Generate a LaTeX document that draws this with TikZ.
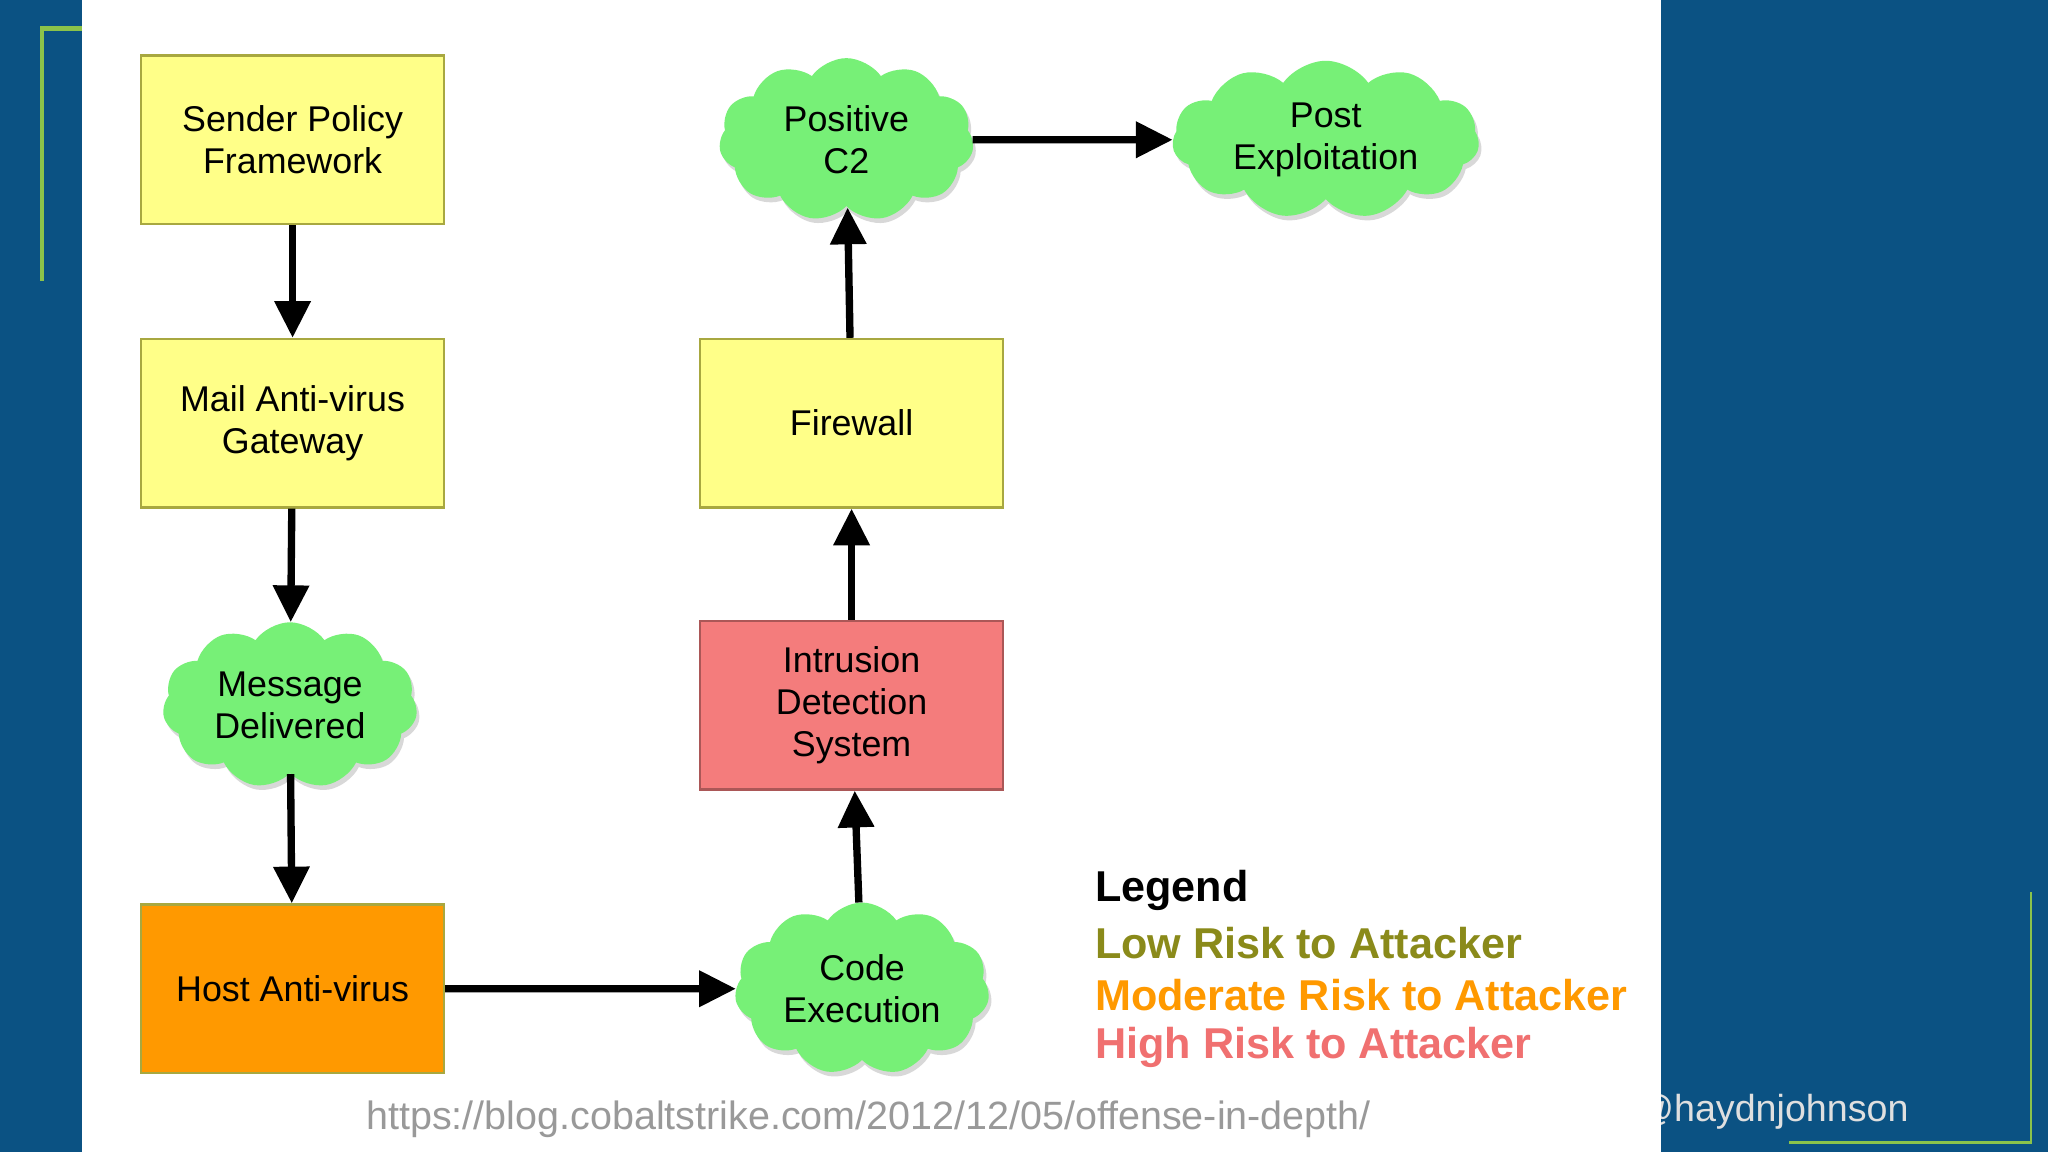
\documentclass[tikz,border=0pt]{standalone}
\usepackage{fontspec}
\setmainfont{Liberation Sans}
\usetikzlibrary{shapes.symbols,shadows,arrows.meta}
\definecolor{bg}{HTML}{0B5283}
\definecolor{brk}{HTML}{8BC34A}
\definecolor{yel}{HTML}{FFFF88}
\definecolor{ybd}{HTML}{A8A840}
\definecolor{red}{HTML}{F47C7C}
\definecolor{org}{HTML}{FF9900}
\definecolor{grn}{HTML}{77F077}
\definecolor{olv}{HTML}{8A8A1A}
\definecolor{pnk}{HTML}{F07070}
\begin{document}
\begin{tikzpicture}[x=0.05cm,y=-0.05cm,
 box/.style={draw=ybd,line width=2.5pt,minimum width=232*0.05cm,minimum height=129*0.05cm,align=center,font=\fontsize{39}{46}\selectfont},
 cl/.style={cloud,cloud puffs=11,cloud puff arc=110,fill=grn,draw=none,align=center,font=\fontsize{39}{46}\selectfont,drop shadow={shadow xshift=3pt,shadow yshift=-5pt,opacity=0.3}},
 ar/.style={line width=8pt,-{Triangle[length=40pt,width=38pt]}},
 leg/.style={anchor=west,font=\bfseries\fontsize{47}{52}\selectfont}]
\fill[bg] (0,0) rectangle (1568,882);
\node[text=gray!25,anchor=west,font=\fontsize{41}{46}\selectfont] (h) at (1250,851) {@haydnjohnson};
\fill[white] (63,0) rectangle (1272,882);
\useasboundingbox (0,0) rectangle (1568,882);
\draw[brk,line width=5pt] (63,22) -- (32,22) -- (32,215);
\draw[brk,line width=3pt] (1370,875) -- (1555,875) -- (1555,683);
\node[box,fill=yel] (spf) at (224,107) {Sender Policy\\Framework};
\node[box,fill=yel] (mail) at (224,324) {Mail Anti-virus\\Gateway};
\node[box,fill=org,draw=ybd] (host) at (224,757) {Host Anti-virus};
\node[box,fill=yel] (fw) at (652,324) {Firewall};
\node[box,fill=red,draw=red!70!black] (ids) at (652,540) {Intrusion\\Detection\\System};
\node[cl,aspect=1.6,minimum width=195*0.05cm,minimum height=125*0.05cm] (c2) at (648,107) {Positive\\C2};
\node[cl,aspect=2.1,minimum width=235*0.05cm,minimum height=115*0.05cm,inner sep=0pt] (post) at (1015,107) {Post\\Exploitation};
\node[cl,aspect=1.6,minimum width=195*0.05cm,minimum height=125*0.05cm] (msg) at (222,540) {Message\\Delivered};
\node[cl,aspect=1.6,minimum width=195*0.05cm,minimum height=125*0.05cm] (code) at (660,757) {Code\\Execution};
\draw[ar] (spf.south) -- (mail.north);
\draw[ar] (mail) -- (msg);
\draw[ar] (msg) -- (host);
\draw[ar] (host) -- (code);
\draw[ar] (code) -- (ids);
\draw[ar] (ids) -- (fw);
\draw[ar] (fw) -- (c2);
\draw[ar] (c2) -- (post);
\node[leg,text=black] (l0) at (836,682) {Legend};
\node[leg,text=olv] (l1) at (836,722) {Low Risk to Attacker};
\node[leg,text=org] (l2) at (836,762) {Moderate Risk to Attacker};
\node[leg,text=pnk] (l3) at (836,802) {High Risk to Attacker};
\node[text=gray!80,font=\fontsize{43}{48}\selectfont] (url) at (665,857) {https://blog.cobaltstrike.com/2012/12/05/offense-in-depth/};
\end{tikzpicture}
\end{document}
